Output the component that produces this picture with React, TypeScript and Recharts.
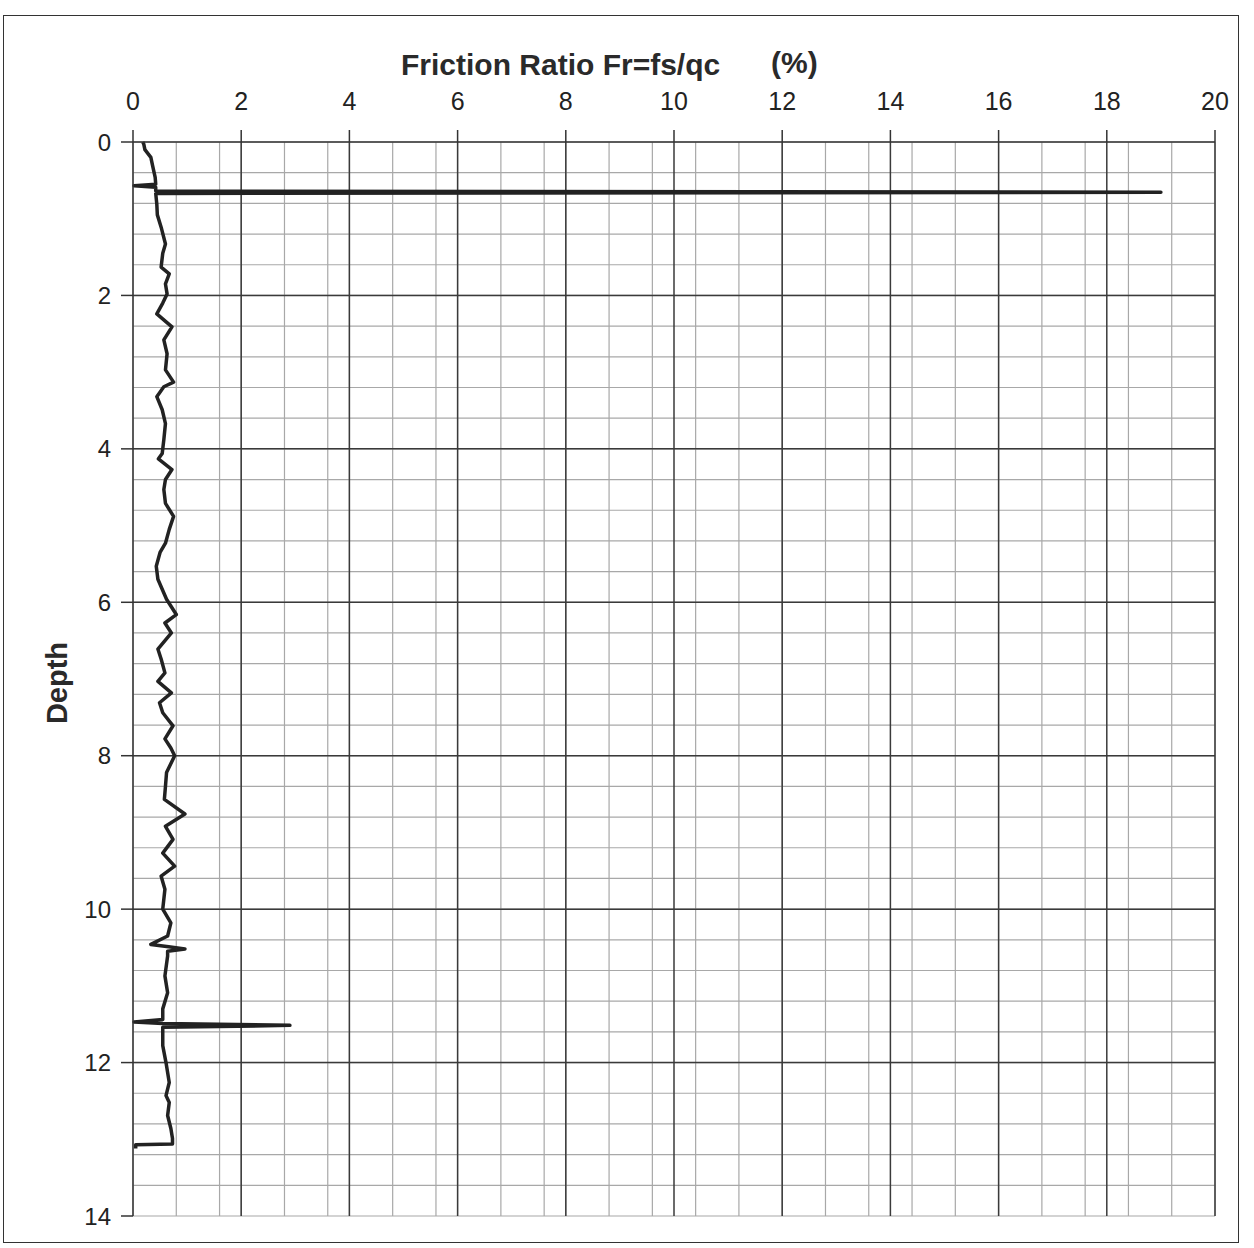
import { LineChart, Line, XAxis, YAxis, CartesianGrid } from "recharts";

// depth (m) down the sounding
const depth = [
  0.0, 0.03, 0.1, 0.2, 0.3, 0.46, 0.55, 0.57, 0.59, 0.64, 0.655, 0.67, 0.81,
  0.95, 1.11, 1.33, 1.45, 1.63, 1.72, 1.85, 1.98, 2.1, 2.24, 2.41, 2.58, 2.76,
  2.97, 3.13, 3.19, 3.32, 3.49, 3.67, 3.88, 4.06, 4.13, 4.27, 4.4, 4.53, 4.71,
  4.88, 5.05, 5.23, 5.35, 5.53, 5.7, 5.96, 6.16, 6.27, 6.4, 6.61, 6.74, 6.92,
  7.03, 7.18, 7.31, 7.44, 7.61, 7.78, 7.9, 8.0, 8.22, 8.4, 8.57, 8.76, 8.92,
  9.09, 9.27, 9.44, 9.57, 9.74, 10.0, 10.18, 10.35, 10.46, 10.49, 10.52,
  10.55, 10.61, 10.87, 11.09, 11.3, 11.44, 11.47, 11.49, 11.515, 11.54, 11.78,
  12.0, 12.26, 12.43, 12.52, 12.69, 12.86, 12.99, 13.06, 13.07, 13.12,
];

// friction ratio Fr = fs/qc (%)
const frictionRatio = [
  0.18, 0.2, 0.22, 0.33, 0.36, 0.41, 0.42, 0.02, 0.42, 0.42, 19.0, 0.42, 0.44,
  0.45, 0.52, 0.6, 0.55, 0.52, 0.67, 0.6, 0.63, 0.55, 0.44, 0.72, 0.57, 0.63,
  0.6, 0.75, 0.57, 0.44, 0.54, 0.6, 0.57, 0.54, 0.47, 0.72, 0.6, 0.57, 0.6,
  0.75, 0.67, 0.6, 0.5, 0.43, 0.46, 0.62, 0.8, 0.59, 0.71, 0.46, 0.52, 0.59,
  0.46, 0.71, 0.49, 0.55, 0.74, 0.59, 0.7, 0.77, 0.62, 0.6, 0.58, 0.96, 0.6,
  0.74, 0.55, 0.77, 0.52, 0.59, 0.55, 0.7, 0.64, 0.33, 0.66, 0.96, 0.64, 0.64,
  0.59, 0.64, 0.55, 0.55, 0.02, 0.55, 2.9, 0.55, 0.55, 0.61, 0.67, 0.61, 0.67,
  0.64, 0.7, 0.73, 0.73, 0.05, 0.05,
];

const xTicks = [0, 2, 4, 6, 8, 10, 12, 14, 16, 18, 20];
const yTicks = [0, 2, 4, 6, 8, 10, 12, 14];

const data = depth.map((d, i) => ({ depth: d, fr: frictionRatio[i] }));

// grid: fine lines every 0.4, heavy lines every 2
const minorX = Array.from({ length: 51 }, (_, i) => +(i * 0.4).toFixed(1));
const minorY = Array.from({ length: 36 }, (_, i) => +(i * 0.4).toFixed(1));
const majorX = xTicks.slice(1);
const majorY = yTicks.slice(1, -1);

const FONT = "'Liberation Sans', Arial, sans-serif";

export default function App() {
  return (
    <div
      style={{
        position: "absolute",
        left: 0,
        top: 0,
        width: 1254,
        height: 1248,
        background: "#ffffff",
        fontFamily: FONT,
        overflow: "hidden",
      }}
    >
      <div
        style={{
          position: "absolute",
          left: 3,
          top: 15,
          width: 1234,
          height: 1226,
          border: "1.5px solid #333",
        }}
      />
      <div
        style={{
          position: "absolute",
          left: 401,
          top: 48,
          fontSize: 30,
          fontWeight: 700,
          color: "#2a2a2a",
          whiteSpace: "pre",
        }}
      >
        Friction Ratio Fr=fs/qc
      </div>
      <div
        style={{
          position: "absolute",
          left: 771,
          top: 46,
          fontSize: 30,
          fontWeight: 700,
          color: "#2a2a2a",
        }}
      >
        (%)
      </div>
      <div
        style={{
          position: "absolute",
          left: 57,
          top: 683,
          transform: "translate(-50%, -50%) rotate(-90deg)",
          fontSize: 29,
          fontWeight: 700,
          color: "#2a2a2a",
        }}
      >
        Depth
      </div>
      <LineChart
        width={1254}
        height={1248}
        data={data}
        layout="vertical"
        margin={{ top: 92, right: 39, bottom: 32, left: 0 }}
      >
        <CartesianGrid
          stroke="#a8a8a8"
          strokeWidth={1.2}
          verticalValues={minorX}
          horizontalValues={minorY}
        />
        <CartesianGrid
          stroke="#3a3a3a"
          strokeWidth={1.5}
          verticalValues={majorX}
          horizontalValues={majorY}
        />
        <XAxis
          type="number"
          orientation="top"
          domain={[0, 20]}
          ticks={xTicks}
          height={50}
          tickSize={12}
          tickMargin={20}
          axisLine={{ stroke: "#333", strokeWidth: 1.5 }}
          tickLine={{ stroke: "#333", strokeWidth: 1.5 }}
          tick={{ fill: "#222", fontSize: 25, fontFamily: FONT }}
        />
        <YAxis
          type="number"
          dataKey="depth"
          domain={[0, 14]}
          ticks={yTicks}
          width={133}
          tickSize={12}
          tickMargin={10}
          axisLine={{ stroke: "#333", strokeWidth: 1.5 }}
          tickLine={{ stroke: "#333", strokeWidth: 1.5 }}
          tick={{ fill: "#222", fontSize: 24, fontFamily: FONT }}
        />
        <Line
          dataKey="fr"
          type="linear"
          stroke="#222"
          strokeWidth={3.5}
          strokeLinejoin="round"
          dot={false}
          isAnimationActive={false}
        />
      </LineChart>
    </div>
  );
}
